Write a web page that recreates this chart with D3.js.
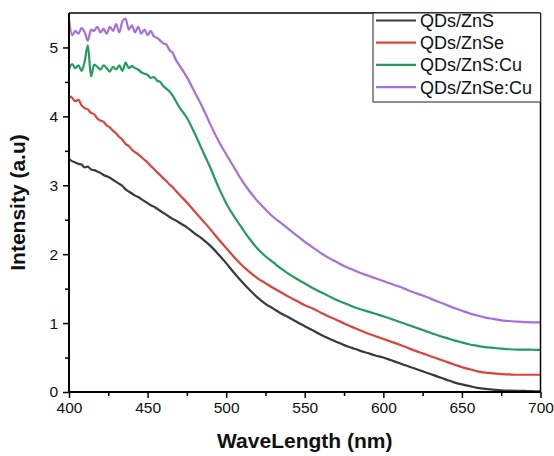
<!DOCTYPE html>
<html><head><meta charset="utf-8">
<script src="https://cdn.jsdelivr.net/npm/d3@7"></script>
<style>body{margin:0;background:#fff}svg{display:block}text{font-family:"Liberation Sans",Arial,sans-serif}</style>
</head><body><svg id="c" width="554" height="456"></svg>
<script>
const wavelength = [400,402,404,406,408,410,412,414,416,418,420,422,424,426,428,430,432,434,436,438,440,442,444,446,448,450,452,454,456,458,460,462,464,466,468,470,
475,480,485,490,495,500,505,510,515,520,525,530,535,540,545,550,555,560,565,570,575,580,585,590,595,600,605,610,615,620,625,630,635,640,645,650,655,660,665,670,675,680,685,690,695,700];

const znS = [3.38,3.35,3.33,3.31,3.30,3.26,3.27,3.23,3.22,3.20,3.18,3.15,3.13,3.11,3.08,3.05,3.02,2.99,2.94,2.91,2.88,2.85,2.83,2.80,2.77,2.74,2.71,2.69,2.66,2.63,2.60,2.57,2.54,2.51,2.49,2.46,
2.39,2.30,2.22,2.12,2.00,1.87,1.73,1.60,1.48,1.37,1.28,1.21,1.14,1.08,1.015,0.955,0.895,0.835,0.78,0.73,0.68,0.64,0.60,0.565,0.53,0.50,0.46,0.42,0.38,0.34,0.30,0.26,0.22,0.18,0.14,0.11,0.085,0.06,0.045,0.035,0.025,0.02,0.017,0.015,0.012,0.01];

const znSe = [4.30,4.27,4.22,4.24,4.16,4.12,4.10,4.05,4.03,3.97,3.94,3.92,3.87,3.84,3.79,3.75,3.70,3.66,3.60,3.57,3.52,3.48,3.45,3.41,3.37,3.33,3.28,3.24,3.19,3.15,3.10,3.06,3.01,2.97,2.92,2.87,
2.75,2.62,2.49,2.36,2.22,2.09,1.96,1.84,1.74,1.65,1.58,1.51,1.445,1.38,1.32,1.26,1.21,1.155,1.10,1.05,0.995,0.945,0.895,0.85,0.81,0.77,0.73,0.69,0.645,0.60,0.56,0.52,0.48,0.44,0.40,0.36,0.33,0.30,0.28,0.27,0.26,0.255,0.25,0.25,0.25,0.25];

const znSCu = [4.68,4.76,4.70,4.74,4.66,4.80,5.03,4.58,4.75,4.72,4.68,4.74,4.70,4.65,4.72,4.68,4.74,4.66,4.78,4.70,4.73,4.70,4.68,4.64,4.62,4.60,4.56,4.57,4.52,4.50,4.44,4.40,4.36,4.30,4.22,4.14,
3.98,3.75,3.50,3.25,2.98,2.74,2.55,2.38,2.22,2.08,1.97,1.88,1.79,1.71,1.64,1.575,1.51,1.45,1.395,1.34,1.29,1.245,1.205,1.17,1.135,1.10,1.06,1.02,0.98,0.94,0.90,0.86,0.82,0.785,0.75,0.72,0.69,0.67,0.65,0.64,0.63,0.62,0.615,0.615,0.613,0.612];

const znSeCu = [5.40,5.18,5.24,5.20,5.28,5.22,5.10,5.26,5.24,5.30,5.22,5.27,5.20,5.30,5.24,5.34,5.22,5.38,5.42,5.26,5.32,5.22,5.30,5.20,5.26,5.18,5.24,5.16,5.14,5.10,5.06,5.04,4.96,4.92,4.82,4.75,
4.57,4.35,4.13,3.88,3.65,3.45,3.26,3.07,2.91,2.77,2.65,2.54,2.45,2.36,2.27,2.18,2.10,2.02,1.95,1.89,1.83,1.78,1.73,1.69,1.65,1.61,1.57,1.53,1.485,1.44,1.40,1.355,1.31,1.265,1.22,1.18,1.14,1.11,1.08,1.06,1.04,1.03,1.02,1.015,1.01,1.01];

const seriesNames = ["QDs/ZnS","QDs/ZnSe","QDs/ZnS:Cu","QDs/ZnSe:Cu"];
const seriesValues = [znS, znSe, znSCu, znSeCu];
const seriesColors = ["#3a3a3a","#d9443c","#239b61","#a66fdb"];
const xTicks = [400,450,500,550,600,650,700];
const yTicks = [0,1,2,3,4,5];

const svg = d3.select("#c");
const L = 69, R = 540.5, T = 13, B = 392;
const x = d3.scaleLinear().domain([400,700]).range([L,R]);
const y = d3.scaleLinear().domain([0,5.5]).range([B,T]);

const line = d3.line().x(d=>x(d[0])).y(d=>y(d[1])).curve(d3.curveMonotoneX);
seriesValues.forEach((vals,i)=>{
  svg.append("path").datum(wavelength.map((w,j)=>[w,vals[j]]))
    .attr("d", line).attr("fill","none").attr("stroke",seriesColors[i])
    .attr("stroke-width",2.2).attr("stroke-linejoin","round");
});

// frame top/right
svg.append("line").attr("x1",L).attr("x2",R).attr("y1",T).attr("y2",T).attr("stroke","#000").attr("stroke-width",1.5);
svg.append("line").attr("x1",R).attr("x2",R).attr("y1",T).attr("y2",B).attr("stroke","#000").attr("stroke-width",1.5);

// x axis
const gx = svg.append("g").attr("transform",`translate(0,${B})`);
gx.call(d3.axisBottom(x).tickValues(d3.range(425,700,50)).tickSize(4).tickFormat(""));
gx.call(g=>g.select(".domain").remove());
const gx2 = svg.append("g").attr("transform",`translate(0,${B})`);
gx2.call(d3.axisBottom(x).tickValues(xTicks).tickSize(6).tickPadding(4).tickFormat(d3.format("d")));
gx2.select(".domain").attr("stroke-width",2).attr("d",`M${L},0H${R}`);
gx2.selectAll("text").attr("font-size","15.5px").attr("fill","#111");
gx.selectAll("line").attr("stroke-width",1.5);
gx2.selectAll(".tick line").attr("stroke-width",1.5);

// y axis
const gy = svg.append("g").attr("transform",`translate(${L},0)`);
gy.call(d3.axisLeft(y).tickValues([0.5,1.5,2.5,3.5,4.5]).tickSize(4).tickFormat(""));
gy.call(g=>g.select(".domain").remove());
const gy2 = svg.append("g").attr("transform",`translate(${L},0)`);
gy2.call(d3.axisLeft(y).tickValues(yTicks).tickSize(6).tickPadding(5).tickFormat(d3.format("d")));
gy2.select(".domain").attr("stroke-width",2).attr("d",`M0,${T}V${B}`);
gy2.selectAll("text").attr("font-size","15.5px").attr("fill","#111");
gy.selectAll("line").attr("stroke-width",1.5);
gy2.selectAll(".tick line").attr("stroke-width",1.5);

// titles
svg.append("text").attr("x",(L+R)/2).attr("y",448).attr("text-anchor","middle")
  .attr("font-size","21px").attr("font-weight","bold").attr("fill","#111").text("WaveLength (nm)");
svg.append("text").attr("transform",`translate(25,${(T+B)/2}) rotate(-90)`).attr("text-anchor","middle")
  .attr("font-size","21px").attr("font-weight","bold").attr("fill","#111").text("Intensity (a.u)");

// legend
const lg = svg.append("g");
lg.append("rect").attr("x",373).attr("y",T).attr("width",R-373).attr("height",89)
  .attr("fill","#fff").attr("stroke","#222").attr("stroke-width",1);
seriesNames.forEach((n,i)=>{
  const yy = 20.5 + i*22.2;
  lg.append("line").attr("x1",376).attr("x2",416).attr("y1",yy).attr("y2",yy)
    .attr("stroke",seriesColors[i]).attr("stroke-width",2.2);
  lg.append("text").attr("x",420).attr("y",yy+6.5).attr("font-size","18px").attr("fill","#111").text(n);
});
</script></body></html>
